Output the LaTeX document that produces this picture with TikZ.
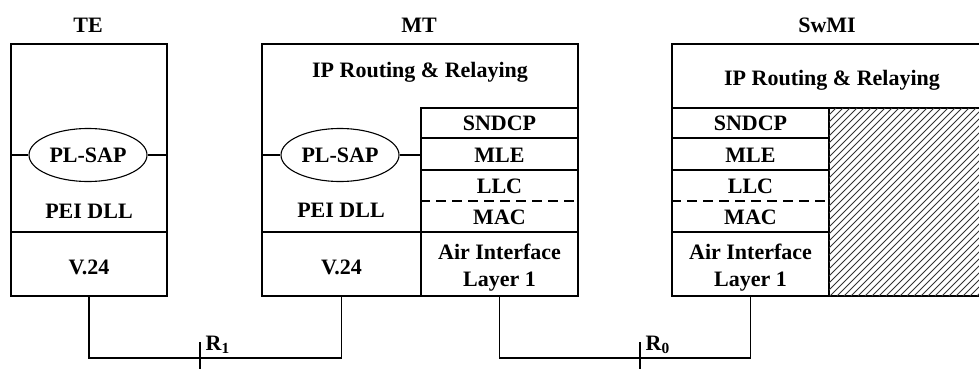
\documentclass[tikz,border=0pt]{standalone}
\usepackage{fontspec}
\setmainfont{Liberation Serif}
\usetikzlibrary{shapes.geometric}
\begin{document}
\begin{tikzpicture}[x=1pt,y=-1pt,line width=1.3pt,
  every node/.style={font=\fontsize{22}{27}\selectfont\bfseries, inner sep=0pt, align=center},
  cell/.style={draw, minimum width=#1},
  sap/.style={draw, ellipse, minimum width=118pt, minimum height=53pt, line width=1.1pt},
  dashline/.style={dash pattern=on 10pt off 6pt},
  hatchline/.style={line width=0.8pt, black!80}]
\useasboundingbox (0,0) rectangle (979,369);
\clip (0,0) rectangle (979,369);

% ---------- TE ----------
\node (telab) at (88,25) {TE};
\node[cell=156pt, minimum height=188pt] (teup) at (89,138) {};
\node[cell=156pt, minimum height=64pt] (tev24) at (89,264) {};
\node (tev24t) at (89,267) {V.24};
\node[sap] (tesap) at (88,155) {PL-SAP};
\node (tedll) at (89,211) {PEI DLL};
\draw (teup.west |- tesap) -- (tesap.west);
\draw (tesap.east) -- (tesap.east -| teup.east);

% ---------- MT ----------
\node (mtlab) at (419,25) {MT};
\node[cell=316pt, minimum height=252pt] (mtout) at (420,170) {};
\node (mtip) at (420,72) {IP Routing \& Relaying};
\node[cell=157pt, minimum height=30pt] (mtsn) at (499.5,123) {};
\node[cell=157pt, minimum height=32pt] (mtmle) at (499.5,154) {};
\node[cell=157pt, minimum height=62pt] (mtlm) at (499.5,201) {};
\node[cell=157pt, minimum height=64pt] (mtair) at (499.5,264) {};
\node[cell=159pt, minimum height=64pt] (mtv24) at (341.5,264) {};
\node at (499.5,123) {SNDCP};
\node at (499.5,155) {MLE};
\node at (499.5,186) {LLC};
\node at (499.5,217) {MAC};
\node at (499.5,268) {Air Interface\\Layer 1};
\node (mtv24t) at (341.5,267) {V.24};
\node[sap] (mtsap) at (340,155) {PL-SAP};
\node (mtdll) at (341,210) {PEI DLL};
\draw[dashline] (mtlm.west) -- (mtlm.east);
\draw (mtout.west |- mtsap) -- (mtsap.west);
\draw (mtsap.east) -- (mtsap.east -| mtmle.west);

% ---------- SwMI ----------
\node (swlab) at (827,25) {SwMI};
\node[cell=320pt, minimum height=252pt] (swout) at (832,170) {};
\node (swip) at (832,80) {IP Routing \& Relaying};
\node[cell=157pt, minimum height=30pt] (swsn) at (750.5,123) {};
\node[cell=157pt, minimum height=32pt] (swmle) at (750.5,154) {};
\node[cell=157pt, minimum height=62pt] (swlm) at (750.5,201) {};
\node[cell=157pt, minimum height=64pt] (swair) at (750.5,264) {};
\node at (750.5,123) {SNDCP};
\node at (750.5,155) {MLE};
\node at (750.5,186) {LLC};
\node at (750.5,217) {MAC};
\node at (750.5,268) {Air Interface\\Layer 1};
\draw[dashline] (swlm.west) -- (swlm.east);
\node[cell=163pt, minimum height=188pt] (swhatch) at (910.5,202) {};
\begin{scope}
  \clip (829,108) rectangle (992,296);
  \foreach \k in {0,...,52} {
    \draw[hatchline] ({641+7*\k},296) -- ({829+7*\k},108);
  }
\end{scope}

% ---------- reference points ----------
\coordinate (r1) at (200,358);
\coordinate (r1top) at (200,342);
\coordinate (r1bot) at (200,372);
\coordinate (r0) at (640,358);
\coordinate (r0top) at (640,342);
\coordinate (r0bot) at (640,372);

\draw (tev24.south) |- (r1) -| (mtv24.south);
\draw (mtair.south) |- (r0) -| (swair.south);
\draw (r1top) -- (r1bot);
\draw (r0top) -- (r0bot);
\node[anchor=south west] (r1lab) at (205,354) {R\textsubscript{1}};
\node[anchor=south west] (r0lab) at (645,354) {R\textsubscript{0}};
\end{tikzpicture}
\end{document}
